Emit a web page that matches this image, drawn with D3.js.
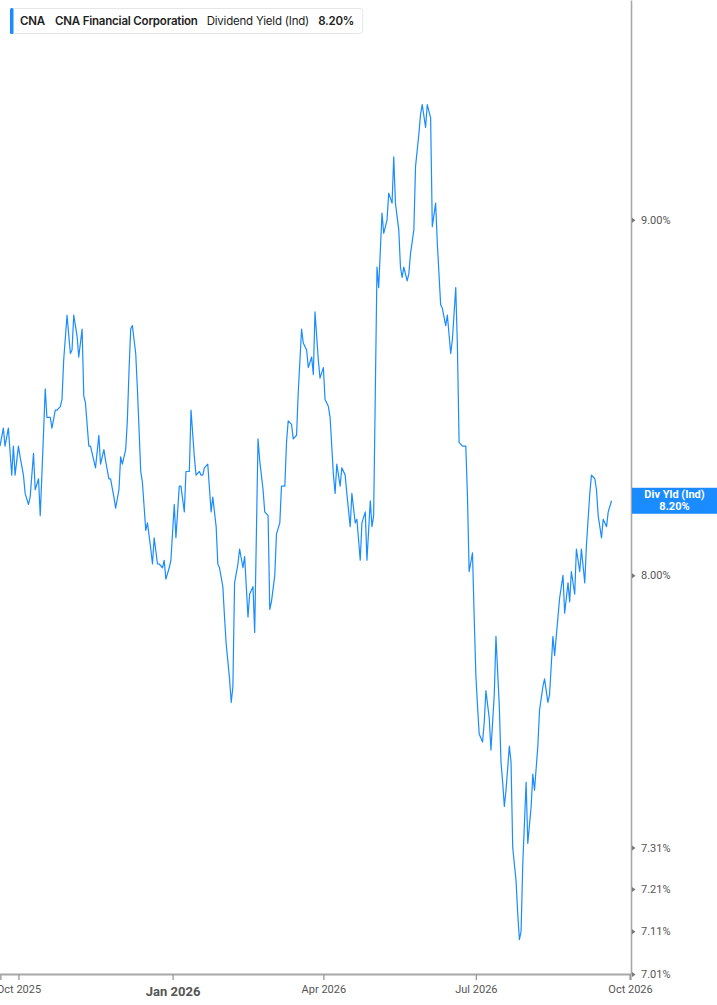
<!DOCTYPE html>
<html>
<head>
<meta charset="utf-8">
<script src="https://cdn.jsdelivr.net/npm/d3@7"></script>
<style>
  body { margin: 0; background: #fff; }
  svg { display: block; }
</style>
</head>
<body>
<div id="chart"></div>
<script>
// Dividend yield (Ind) for CNA
const dates = [
  "2025-09-20","2025-09-22","2025-09-23","2025-09-25","2025-09-27","2025-09-28","2025-09-29",
  "2025-10-01","2025-10-02","2025-10-04","2025-10-05","2025-10-07","2025-10-08","2025-10-10","2025-10-11",
  "2025-10-13","2025-10-14","2025-10-15","2025-10-17","2025-10-18","2025-10-20","2025-10-21","2025-10-23",
  "2025-10-24","2025-10-26","2025-10-27","2025-10-28","2025-10-30",
  "2025-11-01","2025-11-02","2025-11-03","2025-11-05","2025-11-06","2025-11-08","2025-11-09","2025-11-10",
  "2025-11-12","2025-11-13","2025-11-15","2025-11-16","2025-11-18","2025-11-19","2025-11-21","2025-11-22",
  "2025-11-24","2025-11-25","2025-11-27","2025-11-28","2025-11-30",
  "2025-12-01","2025-12-02","2025-12-04","2025-12-05","2025-12-06","2025-12-07","2025-12-08","2025-12-10",
  "2025-12-11","2025-12-13","2025-12-14","2025-12-16","2025-12-17","2025-12-19","2025-12-20","2025-12-21",
  "2025-12-23","2025-12-24","2025-12-26","2025-12-27","2025-12-28","2025-12-30","2025-12-31",
  "2026-01-02","2026-01-03","2026-01-05","2026-01-06","2026-01-08","2026-01-09","2026-01-11","2026-01-12",
  "2026-01-14","2026-01-15","2026-01-17","2026-01-18","2026-01-19","2026-01-20","2026-01-22","2026-01-24",
  "2026-01-25","2026-01-27","2026-01-28","2026-01-29","2026-01-31",
  "2026-02-01","2026-02-02","2026-02-04","2026-02-05","2026-02-06","2026-02-07","2026-02-09","2026-02-10",
  "2026-02-12","2026-02-13","2026-02-15","2026-02-16","2026-02-18","2026-02-19","2026-02-21","2026-02-22",
  "2026-02-24","2026-02-25","2026-02-27","2026-02-28",
  "2026-03-01","2026-03-03","2026-03-04","2026-03-06","2026-03-07","2026-03-09","2026-03-10","2026-03-11",
  "2026-03-13","2026-03-14","2026-03-16","2026-03-17","2026-03-19","2026-03-20","2026-03-22","2026-03-23",
  "2026-03-25","2026-03-26","2026-03-27","2026-03-29","2026-03-30",
  "2026-04-01","2026-04-02","2026-04-04","2026-04-05","2026-04-07","2026-04-08","2026-04-09","2026-04-11",
  "2026-04-12","2026-04-14","2026-04-15","2026-04-17","2026-04-18","2026-04-20","2026-04-21","2026-04-23",
  "2026-04-24","2026-04-26","2026-04-27","2026-04-29","2026-04-30",
  "2026-05-01","2026-05-03","2026-05-04","2026-05-06","2026-05-07","2026-05-09","2026-05-10","2026-05-12",
  "2026-05-13","2026-05-14","2026-05-16","2026-05-17","2026-05-18","2026-05-19","2026-05-21","2026-05-22",
  "2026-05-23","2026-05-25","2026-05-26","2026-05-28","2026-05-29","2026-05-30",
  "2026-06-01","2026-06-02","2026-06-04","2026-06-05","2026-06-07","2026-06-08","2026-06-10","2026-06-11",
  "2026-06-13","2026-06-14","2026-06-16","2026-06-17","2026-06-19","2026-06-20","2026-06-21","2026-06-23",
  "2026-06-25","2026-06-26","2026-06-27","2026-06-29","2026-06-30",
  "2026-07-01","2026-07-02","2026-07-03","2026-07-05","2026-07-06","2026-07-07","2026-07-09","2026-07-10",
  "2026-07-12","2026-07-13","2026-07-15","2026-07-16","2026-07-17","2026-07-18","2026-07-19","2026-07-21",
  "2026-07-22","2026-07-23","2026-07-25","2026-07-26","2026-07-27","2026-07-28","2026-07-29","2026-07-31",
  "2026-08-01","2026-08-03","2026-08-04","2026-08-05","2026-08-07","2026-08-08","2026-08-10","2026-08-11",
  "2026-08-13","2026-08-14","2026-08-16","2026-08-17","2026-08-19","2026-08-20","2026-08-22","2026-08-23",
  "2026-08-25","2026-08-26","2026-08-27","2026-08-29","2026-08-30",
  "2026-09-01","2026-09-02","2026-09-04","2026-09-05","2026-09-07","2026-09-08","2026-09-10","2026-09-11",
  "2026-09-12","2026-09-14","2026-09-15","2026-09-17","2026-09-18","2026-09-20"
];

const yields = [
  8.35, 8.40, 8.35, 8.40, 8.27, 8.35, 8.27,
  8.35, 8.32, 8.27, 8.22, 8.19, 8.21, 8.33, 8.23,
  8.26, 8.16, 8.27, 8.51, 8.43, 8.43, 8.40, 8.45,
  8.45, 8.46, 8.48, 8.59, 8.72,
  8.61, 8.62, 8.72, 8.66, 8.60, 8.68, 8.49, 8.47,
  8.35, 8.35, 8.31, 8.29, 8.38, 8.30, 8.34, 8.31,
  8.26, 8.26, 8.21, 8.18, 8.23,
  8.32, 8.30, 8.34, 8.42, 8.56, 8.68, 8.69, 8.61,
  8.51, 8.28, 8.25, 8.12, 8.14, 8.07, 8.03, 8.10,
  8.03, 8.03, 8.02, 8.04, 7.99, 8.02, 8.04,
  8.19, 8.10, 8.24, 8.24, 8.17, 8.28, 8.28, 8.45,
  8.32, 8.27, 8.28, 8.27, 8.27, 8.29, 8.30, 8.17,
  8.21, 8.13, 8.03, 8.02, 7.97,
  7.89, 7.82, 7.73, 7.67, 7.71, 7.98, 8.03, 8.07,
  8.02, 8.05, 7.89, 7.95, 7.97, 7.85, 8.37, 8.31,
  8.23, 8.17, 8.16, 7.91,
  7.93, 8.00, 8.11, 8.14, 8.24, 8.24, 8.36, 8.42,
  8.41, 8.37, 8.38, 8.50, 8.68, 8.64, 8.62, 8.57,
  8.60, 8.55, 8.73, 8.59, 8.54,
  8.57, 8.48, 8.46, 8.43, 8.27, 8.22, 8.30, 8.24,
  8.29, 8.27, 8.22, 8.13, 8.22, 8.14, 8.15, 8.04,
  8.14, 8.17, 8.04, 8.20, 8.13,
  8.16, 8.86, 8.80, 9.02, 8.96, 9.00, 9.08, 9.05,
  9.19, 9.05, 8.97, 8.86, 8.83, 8.86, 8.82, 8.84,
  8.90, 8.97, 9.16, 9.26, 9.32, 9.35,
  9.28, 9.35, 9.31, 8.98, 9.05, 8.93, 8.75, 8.74,
  8.69, 8.72, 8.61, 8.65, 8.80, 8.63, 8.36, 8.35,
  8.35, 8.21, 8.01, 8.06, 7.89,
  7.74, 7.66, 7.59, 7.57, 7.62, 7.70, 7.63, 7.55,
  7.69, 7.84, 7.66, 7.52, 7.47, 7.41, 7.45, 7.56,
  7.52, 7.31, 7.23, 7.15, 7.09, 7.11, 7.27, 7.47,
  7.32, 7.41, 7.49, 7.45, 7.56, 7.65, 7.71, 7.73,
  7.67, 7.69, 7.84, 7.79, 7.89, 7.94, 8.00, 7.90,
  7.98, 7.93, 8.01, 7.95, 8.07,
  8.01, 8.07, 7.98, 8.08, 8.22, 8.27, 8.26, 8.23,
  8.16, 8.10, 8.15, 8.13, 8.17, 8.20
];

const yTicks = [7.01, 7.11, 7.21, 7.31, 8.00, 9.00];
const xTicks = ["2025-10-01", "2026-01-01", "2026-04-01", "2026-07-01", "2026-10-01"];
const xTickLabels = ["Oct 2025", "Jan 2026", "Apr 2026", "Jul 2026", "Oct 2026"];

const ticker = "CNA";
const company = "CNA Financial Corporation";
const metric = "Dividend Yield (Ind)";
const badgeLabel = "Div Yld (Ind)";

const width = 717, height = 1005;
const plotRight = 630, plotBottom = 974;
const blue = "#1a8cff";

const parse = d3.utcParse("%Y-%m-%d");
const data = dates.map((d, i) => ({ date: parse(d), value: yields[i] }));
const last = data[data.length - 1];

const svg = d3.select("#chart").append("svg")
    .attr("width", width)
    .attr("height", height)
    .style("font-family", "Roboto, 'Liberation Sans', sans-serif");

const x = d3.scaleUtc()
    .domain([parse("2025-09-20"), parse("2026-10-01")])
    .range([0, plotRight]);

const y = d3.scaleLog()
    .domain([7.01, 9.68])
    .range([plotBottom, 0]);

// the yield line
svg.append("path")
    .datum(data)
    .attr("fill", "none")
    .attr("stroke", blue)
    .attr("stroke-width", 1.2)
    .attr("stroke-linejoin", "round")
    .attr("d", d3.line().x(d => x(d.date)).y(d => y(d.value)));

// right axis
let yAxis = svg.append("g")
    .attr("transform", `translate(${plotRight + 1},0)`)
    .call(d3.axisRight(y).tickValues(yTicks).tickSize(0).tickPadding(10)
        .tickFormat(d => d.toFixed(2) + "%"));
yAxis.select(".domain").attr("stroke", "#a8a8a8").attr("stroke-width", 1.6);
yAxis.selectAll(".tick text")
    .attr("fill", "#555")
    .style("font-size", "11px")
    .style("font-family", "Roboto, sans-serif");
yAxis.selectAll(".tick").append("path")
    .attr("d", "M1,-2.5L4.5,0L1,2.5Z")
    .attr("fill", "#777");

// bottom axis
let xAxis = svg.append("g")
    .attr("transform", `translate(0,${plotBottom})`)
    .call(d3.axisBottom(x).tickValues(xTicks.map(parse)).tickSizeOuter(0).tickSize(6).tickPadding(5)
        .tickFormat((d, i) => xTickLabels[i]));
xAxis.select(".domain").attr("stroke", "#a8a8a8").attr("stroke-width", 2.2);
xAxis.selectAll(".tick line").attr("stroke", "#999").attr("stroke-width", 1.3);
xAxis.selectAll(".tick text")
    .attr("fill", "#555")
    .style("font-size", "11px")
    .style("font-family", "Roboto, sans-serif")
    .filter((d, i) => xTickLabels[i].startsWith("Jan"))
    .style("font-weight", "bold")
    .style("font-size", "13px")
    .attr("dy", "0.85em");

// last value badge on the axis
const badgeY = y(last.value);
svg.append("rect")
    .attr("x", plotRight + 2)
    .attr("y", badgeY - 13)
    .attr("width", width - plotRight - 2)
    .attr("height", 26)
    .attr("fill", blue);
const badgeX = (plotRight + 2 + width) / 2;
svg.append("text")
    .attr("x", badgeX).attr("y", badgeY - 2.5)
    .attr("text-anchor", "middle")
    .attr("fill", "#fff")
    .style("font-size", "11px").style("font-weight", "bold")
    .text(badgeLabel);
svg.append("text")
    .attr("x", badgeX).attr("y", badgeY + 9)
    .attr("text-anchor", "middle")
    .attr("fill", "#fff")
    .style("font-size", "11px").style("font-weight", "bold")
    .text(last.value.toFixed(2) + "%");

// legend box at top left
let legend = svg.append("g").attr("transform", "translate(10,8)");
let legendBox = legend.append("rect")
    .attr("x", 0.5).attr("y", 0.5)
    .attr("height", 25)
    .attr("rx", 3)
    .attr("fill", "#fff")
    .attr("stroke", "#e6e6e6");
legend.append("rect")
    .attr("x", 0).attr("y", 0)
    .attr("width", 3.5).attr("height", 26)
    .attr("rx", 1.5)
    .attr("fill", blue);

const legendParts = [
    { text: ticker, bold: true, gap: 10 },
    { text: company, bold: true, gap: 9 },
    { text: metric, bold: false, gap: 9 },
    { text: last.value.toFixed(2) + "%", bold: true, gap: 0 }
];
let cursor = 10;
legendParts.forEach(function (p) {
    let t = legend.append("text")
        .attr("x", cursor)
        .attr("y", 17)
        .attr("fill", "#222")
        .style("font-family", "Inter, 'Noto Sans', sans-serif")
        .style("font-size", "11.5px")
        .style("letter-spacing", "-0.2px")
        .style("font-weight", p.bold ? 600 : 400)
        .text(p.text);
    cursor += t.node().getComputedTextLength() + p.gap;
});
legendBox.attr("width", cursor + 8);
</script>
</body>
</html>
